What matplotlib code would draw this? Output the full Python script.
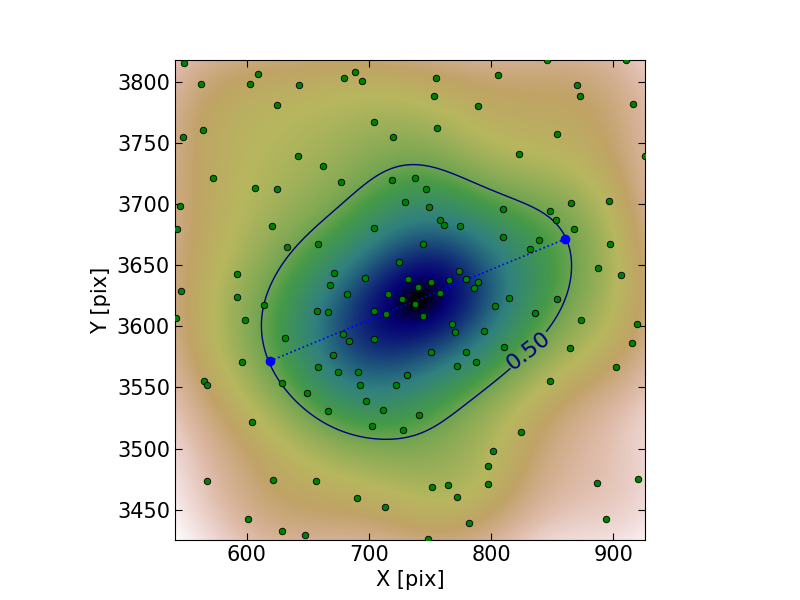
import numpy as np
import matplotlib
matplotlib.use('Agg')
import matplotlib.pyplot as plt

# star positions (pix)
xs = [548.9, 562.6, 602.9, 609.5, 643.0, 624.8, 564.5, 548.1, 642.0, 662.4,
      572.7, 607.0, 624.8, 545.7, 679.9, 688.9, 694.6, 755.1, 753.5, 789.3,
      704.4, 756.0, 720.0, 677.4, 719.1, 738.0, 747.0, 729.8, 749.4, 758.2,
      846.0, 910.6, 805.9, 870.3, 873.0, 916.1, 853.9, 823.1, 925.7, 810.0,
      848.4, 865.6, 896.7, 853.3, 543.0, 620.9, 633.2, 658.3, 592.3, 546.5,
      592.3, 614.4, 541.9, 598.9, 671.2, 668.4, 657.5, 666.8, 631.6, 596.2,
      670.6, 658.3, 565.3, 567.8, 629.1, 704.4, 761.7, 774.8, 744.5, 724.9,
      697.0, 732.2, 750.8, 740.4, 765.8, 774.0, 779.7, 789.5, 786.2, 682.1,
      715.9, 727.3, 758.4, 738.0, 704.4, 714.2, 744.5, 768.2, 770.7, 794.4,
      679.0, 684.0, 704.4, 750.8, 779.7, 787.9, 772.3, 675.0, 691.3, 731.4,
      868.1, 810.0, 839.4, 832.1, 897.5, 887.7, 906.5, 803.4, 814.9, 853.9,
      836.2, 873.8, 919.6, 810.8, 864.8, 915.5, 902.4, 848.4, 649.6, 666.8,
      604.6, 567.8, 621.8, 657.0, 601.3, 629.1, 648.0, 693.0, 722.4, 697.9,
      711.8, 741.2, 702.8, 728.1, 751.9, 765.0, 772.3, 690.5, 713.4, 782.2,
      748.6, 824.7, 801.8, 797.7, 797.2, 886.9, 920.4, 894.3]
ys = [3815.5, 3798.3, 3798.3, 3806.5, 3797.5, 3781.2, 3760.7, 3755.0, 3739.7, 3731.5,
      3721.4, 3713.2, 3712.4, 3698.5, 3803.3, 3808.4, 3801.1, 3803.3, 3788.5, 3780.3,
      3767.3, 3762.6, 3755.0, 3718.4, 3719.8, 3721.4, 3712.4, 3701.8, 3697.7, 3686.9,
      3818.2, 3818.2, 3805.7, 3797.5, 3788.5, 3782.0, 3757.4, 3741.1, 3739.7, 3696.1,
      3694.4, 3701.2, 3702.6, 3686.7, 3679.7, 3682.2, 3665.0, 3667.4, 3642.9, 3629.0,
      3624.1, 3617.5, 3606.9, 3605.2, 3643.7, 3633.9, 3612.6, 3611.8, 3590.5, 3570.9,
      3576.6, 3566.8, 3555.6, 3552.0, 3553.7, 3680.5, 3683.0, 3682.2, 3667.4, 3652.7,
      3639.6, 3638.8, 3636.3, 3632.2, 3638.0, 3645.3, 3638.8, 3636.3, 3631.4, 3626.5,
      3626.5, 3622.4, 3627.3, 3618.3, 3612.6, 3610.1, 3608.5, 3602.0, 3595.4, 3596.2,
      3593.8, 3588.0, 3589.7, 3579.0, 3579.0, 3570.9, 3567.6, 3562.4, 3562.7, 3559.9,
      3679.7, 3673.2, 3670.7, 3663.3, 3667.4, 3647.8, 3642.1, 3616.7, 3623.2, 3622.4,
      3611.0, 3605.2, 3602.0, 3583.1, 3582.3, 3586.4, 3566.8, 3555.6, 3545.5, 3530.8,
      3521.8, 3473.5, 3474.3, 3473.5, 3442.4, 3432.6, 3429.3, 3552.0, 3552.0, 3538.9,
      3531.6, 3527.5, 3518.5, 3515.2, 3468.6, 3470.2, 3460.4, 3459.6, 3452.2, 3439.1,
      3426.0, 3513.6, 3498.0, 3485.8, 3471.0, 3471.8, 3475.1, 3442.4]

# ends of the 50% contour diameter
end_x = [619.1, 860.7]
end_y = [3571.7, 3671.5]

xlim = (541.3, 926.2)
ylim = (3425.2, 3818.0)
level = 0.50
bw = 45.0   # kernel width, pix

# smoothed star density, shown as 1 - density/peak
gx = np.linspace(xlim[0], xlim[1], 240)
gy = np.linspace(ylim[0], ylim[1], 240)
GX, GY = np.meshgrid(gx, gy)
dens = np.zeros_like(GX)
for a, b in zip(xs, ys):
    dens += np.exp(-((GX - a)**2 + (GY - b)**2) / (2 * bw**2))
frac = 1.0 - dens / dens.max()

plt.rcParams['xtick.direction'] = 'in'
plt.rcParams['ytick.direction'] = 'in'
plt.rcParams['xtick.top'] = True
plt.rcParams['ytick.right'] = True
plt.rcParams['xtick.major.size'] = 5
plt.rcParams['ytick.major.size'] = 5
plt.rcParams['font.size'] = 15

fig = plt.figure(figsize=(8, 6), dpi=100)
fig.subplots_adjust(left=0.125, right=0.9, bottom=0.1, top=0.9)
ax = fig.add_subplot(111)
# colour scale stretched over the map's own range
ax.imshow(frac, extent=[xlim[0], xlim[1], ylim[0], ylim[1]], origin='lower',
          cmap='gist_earth', interpolation='bilinear')
cs = ax.contour(GX, GY, frac, levels=[level], colors='navy', linewidths=1)
ax.clabel(cs, fmt='%.2f', fontsize=16, manual=[(831, 3580)])
ax.plot(end_x, end_y, ':', color='blue', lw=1.2, zorder=3)
ax.scatter(xs, ys, s=22, c='green', edgecolors='black', linewidths=0.6, zorder=4)
ax.plot(end_x, end_y, 'o', color='blue', mec='blue', ms=6, ls='none', zorder=5)
ax.set_xlim(xlim)
ax.set_ylim(ylim)
ax.set_aspect('equal')
ax.set_xlabel('X [pix]')
ax.set_ylabel('Y [pix]')
fig.savefig('out.png', dpi=100)
